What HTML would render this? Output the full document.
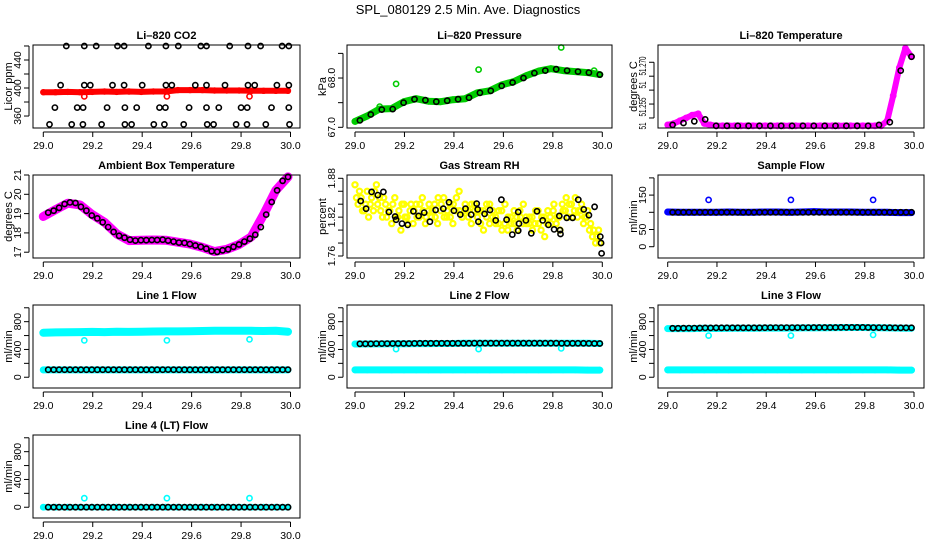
<!DOCTYPE html>
<html><head><meta charset="utf-8"><style>
html,body{margin:0;padding:0;background:#fff;}
svg{display:block;font-family:"Liberation Sans",sans-serif;}
</style></head><body>
<svg id="chart" width="936" height="540" viewBox="0 0 936 540">
<text x="468" y="14" text-anchor="middle" font-size="13">SPL_080129  2.5 Min. Ave. Diagnostics</text>
</svg>
<script>
// ---------- data ----------
const xTicks = [29.0, 29.2, 29.4, 29.6, 29.8, 30.0];
const xTickLabels = ["29.0", "29.2", "29.4", "29.6", "29.8", "30.0"];

const co2Red = [394,394,394.5,394,394.5,395,394.5,395,394.5,395,395,397,397,397,396.5,396.5,396.5,396,396,396,396];
const co2RedOutX = [29.166, 29.5, 29.834];
const co2RedOutY = [388, 388, 388];
const co2BlackX = [29.093,29.166,29.214,29.30,29.327,29.425,29.496,29.546,29.637,29.66,29.754,29.828,29.879,29.966,29.993,
 29.07,29.166,29.19,29.28,29.327,29.40,29.496,29.52,29.615,29.66,29.735,29.828,29.855,29.945,29.993,
 29.047,29.137,29.161,29.258,29.33,29.378,29.47,29.494,29.59,29.66,29.71,29.80,29.825,29.923,29.993,
 29.025,29.115,29.16,29.236,29.33,29.357,29.447,29.49,29.568,29.663,29.689,29.78,29.824,29.90,29.996];
const co2BlackY = [460,460,460,460,460,460,460,460,460,460,460,460,460,460,460,
 404,404,404,404,404,404,404,404,404,404,404,404,404,404,404,
 372,372,372,372,372,372,372,372,372,372,372,372,372,372,372,
 348,348,348,348,348,348,348,348,348,348,348,348,348,348,348];

const presGreen = [67.12,67.23,67.37,67.38,67.52,67.58,67.53,67.52,67.56,67.58,67.7,67.74,67.86,67.93,68.05,68.14,68.19,68.15,68.13,68.11,68.07];
const presGreenOutX = [29.1, 29.166, 29.5, 29.834, 29.967];
const presGreenOutY = [67.42, 67.88, 68.17, 68.62, 68.15];
const presBlack = [67.14,67.26,67.36,67.37,67.5,67.57,67.55,67.52,67.54,67.57,67.6,67.7,67.74,67.84,67.91,68.0,68.1,68.15,68.18,68.15,68.13,68.11,68.07];

const tempMag = [51.2475,51.248,51.249,51.250,51.251,51.2515,51.248,51.2475,
 51.2472,51.2472,51.2472,51.2472,51.2472,51.2472,51.2472,51.2472,51.2472,51.2472,51.2472,51.2472,51.2472,51.2472,
 51.2472,51.2472,51.2472,51.2472,51.2472,51.2472,51.2472,51.2472,51.2472,51.2472,51.2472,51.2472,51.2472,51.2472,
 51.249,51.258,51.268,51.275,51.272];
const tempBlack = [51.2475,51.2482,51.2488,51.2495,51.2472,51.2472,51.2472,51.2472,51.2472,51.2472,51.2472,51.2472,
 51.2472,51.2472,51.2472,51.2472,51.2472,51.2472,51.2472,51.2475,51.2485,51.267,51.272];

const ambMag = [18.85,19.2,19.54,19.45,18.95,18.55,17.95,17.6,17.62,17.63,17.62,17.52,17.42,17.25,17.03,17.15,17.4,17.8,18.95,20.2,20.9];
const ambBlack = [19.05,19.15,19.3,19.5,19.58,19.55,19.35,19.15,18.9,18.75,18.55,18.3,18.05,17.85,17.75,17.65,17.6,17.62,17.62,17.63,17.63,17.65,
 17.6,17.55,17.5,17.48,17.42,17.35,17.28,17.18,17.05,17.02,17.1,17.15,17.28,17.4,17.55,17.7,17.9,18.3,18.95,19.6,20.2,20.7,20.9];

const rhYellow = [1.87,1.84,1.85,1.83,1.86,1.84,1.83,1.87,1.85,1.82,1.84,1.83,1.81,1.85,1.82,1.80,1.84,1.82,1.83,1.81,
 1.84,1.82,1.85,1.81,1.83,1.82,1.84,1.81,1.83,1.85,1.82,1.84,1.81,1.83,1.86,1.82,1.84,1.83,1.81,1.84,
 1.82,1.83,1.80,1.82,1.84,1.82,1.81,1.83,1.80,1.84,1.82,1.81,1.83,1.80,1.82,1.84,1.81,1.82,1.80,1.83,
 1.81,1.82,1.79,1.83,1.81,1.84,1.82,1.80,1.83,1.85,1.84,1.82,1.85,1.83,1.84,1.82,1.83,1.81,1.80,1.79,1.78];
const rhYellow2 = [1.85,1.86,1.83,1.84,1.82,1.85,1.86,1.84,1.83,1.85,1.82,1.83,1.84,1.82,1.83,1.84,1.82,1.81,1.84,1.83,
 1.82,1.84,1.83,1.82,1.84,1.83,1.82,1.85,1.84,1.82,1.83,1.82,1.84,1.85,1.83,1.82,1.83,1.82,1.84,1.83,
 1.83,1.81,1.83,1.84,1.81,1.83,1.82,1.81,1.83,1.81,1.80,1.82,1.81,1.82,1.83,1.81,1.82,1.81,1.82,1.81,
 1.83,1.80,1.82,1.81,1.82,1.83,1.81,1.82,1.84,1.83,1.82,1.84,1.83,1.82,1.83,1.81,1.82,1.80,1.79,1.78,1.80];
const rhBlackX = [29.023,29.045,29.067,29.092,29.115,29.137,29.162,29.166,29.19,29.213,29.236,29.257,29.28,29.303,29.326,29.357,29.38,29.40,29.426,29.447,
 29.47,29.492,29.496,29.499,29.524,29.546,29.569,29.592,29.613,29.636,29.66,29.663,29.66,29.691,29.713,29.736,29.759,29.782,29.805,29.826,
 29.829,29.831,29.856,29.88,29.903,29.925,29.946,29.969,29.992,29.995,29.997];
const rhBlackY = [1.845,1.833,1.859,1.854,1.859,1.828,1.821,1.816,1.810,1.808,1.829,1.822,1.827,1.813,1.831,1.833,1.843,1.830,1.824,1.833,
 1.824,1.841,1.832,1.813,1.825,1.831,1.815,1.847,1.816,1.793,1.828,1.810,1.799,1.815,1.795,1.829,1.815,1.808,1.801,1.822,
 1.800,1.794,1.819,1.819,1.847,1.832,1.823,1.836,1.790,1.780,1.764];

const sampleBlue = [101,100,100,100,100,101,100,100,101,101,100,101,102,101,101,101,100,100,100,99,99];
const sampleBlueOutX = [29.166, 29.5, 29.834];
const sampleBlueOutY = [136, 136, 136];
const sampleBlack = [100,100,100,100,100,100,100,100,100,100,100,100,100,100,100,100,100,100,100,100,100,100,100,
 100,100,100,100,100,100,100,100,100,100,100,100,100,100,100,100,100,100,100,100,100,100];

const line1CyanHi = [640,645,648,650,652,650,655,652,655,658,660,660,662,665,668,670,670,668,665,668,655];
const line1CyanLo = [105,105,105,105,105,105,105,105,105,105,105,105,105,105,105,105,105,105,105,105,105];
const line1CyanOutX = [29.166, 29.5, 29.834];
const line1CyanOutY = [530, 530, 545];
const line1Black = [108,108,108,108,108,108,108,108,108,108,108,108,108,108,108,108,108,108,108,108,108,108,110,
 108,108,108,108,108,108,108,108,108,108,108,108,108,108,108,108,108,108,108,108,108,108];

const line2CyanHi = [478,480,480,482,482,484,484,486,486,488,488,488,488,488,488,488,490,488,488,488,486];
const line2CyanLo = [105,105,105,105,105,105,105,105,105,105,105,105,105,105,105,105,105,105,105,102,102];
const line2CyanOutX = [29.166, 29.5, 29.834];
const line2CyanOutY = [405, 405, 415];
const line2Black = [482,482,482,484,484,484,485,486,486,486,487,488,488,488,488,488,488,488,488,488,489,490,490,
 490,490,490,490,490,490,490,490,490,490,490,490,490,490,489,488,488,488,488,487,486,486];

const line3CyanHi = [700,700,700,704,702,705,706,706,708,708,708,710,710,712,714,716,716,712,710,708,706];
const line3CyanLo = [105,105,105,105,105,105,105,105,105,105,105,105,105,105,105,105,105,105,105,103,103];
const line3CyanOutX = [29.166, 29.5, 29.834];
const line3CyanOutY = [600, 600, 610];
const line3Black = [705,705,706,707,708,709,710,711,712,712,712,712,712,712,712,712,712,713,714,714,714,714,714,
 714,714,715,716,716,716,716,716,717,718,718,718,717,716,715,714,714,713,712,712,712,712];

const line4Cyan = [0,0,0,0,0,0,0,0,0,0,0,0,0,0,0,0,0,0,0,0,0];
const line4CyanOutX = [29.166, 29.5, 29.834];
const line4CyanOutY = [130, 130, 130];
const line4Black = [0,0,0,0,0,0,0,0,0,0,0,0,0,0,0,0,0,0,0,0,0,0,0,
 0,0,0,0,0,0,0,0,0,0,0,0,0,0,0,0,0,0,0,0,0,0];

// ---------- layout ----------
const NS = "http://www.w3.org/2000/svg";
const svg = document.getElementById("chart");
const cols = [{L:33,R:300,x0:43.3,x1:290.5},{L:347,R:612,x0:355,x1:602.3},{L:658,R:924,x0:667.7,x1:914}];
const rowTops = [45,175,305,435];
const H = 83;
function mk(tag, attrs, parent){
  const e = document.createElementNS(NS, tag);
  for (const k in attrs) e.setAttribute(k, attrs[k]);
  (parent||svg).appendChild(e);
  return e;
}
function uniformTimes(n, t0, t1){ const a=[]; for(let i=0;i<n;i++) a.push(t0+(t1-t0)*i/(n-1)); return a; }

function panel(cfg){
  const c = cols[cfg.col], top = rowTops[cfg.row], bot = top + H;
  const g = mk("g", {});
  
  
  const xs = t => c.x0 + (t - 29) * (c.x1 - c.x0);
  const ys = v => bot - (v - cfg.ymin) / (cfg.ymax - cfg.ymin) * H;
  const tt = mk("text", {x:(c.L+c.R)/2, y:top-6, "text-anchor":"middle", "font-size":"11", "font-weight":"bold"}, g);
  tt.textContent = cfg.title;
  
  
  const sg = mk("g", {}, g);
  cfg.series.forEach(s => {
    const ts = s.x ? s.x : uniformTimes(s.y.length, s.t0, s.t1);
    if (s.band) {
      let d = "";
      ts.forEach((t,i) => { d += (i ? "L" : "M") + xs(t).toFixed(1) + " " + ys(s.y[i]).toFixed(1); });
      const p = mk("path", {d:d, fill:"none", stroke:s.color, "stroke-width":s.band, "stroke-linejoin":"round", "stroke-linecap":"round"}, sg);
      
      
    }
    if (s.pts !== false) {
      ts.forEach((t,i) => {
        const ci = mk("circle", {cx:xs(t).toFixed(1), cy:ys(s.y[i]).toFixed(1), r:s.r||2.6, fill:"none", stroke:s.color, "stroke-width":s.sw||1.6}, sg);
        
        
      });
    }
  });
  const box = mk("rect", {x:c.L, y:top, width:c.R-c.L, height:H, fill:"none", stroke:"#000", "stroke-width":1}, g);
  
  
  const xa = mk("g", {}, g);
  
  
  mk("line", {x1:xs(29), x2:xs(30), y1:bot+4, y2:bot+4, stroke:"#000"}, xa);
  xTicks.forEach((t,i) => {
    mk("line", {x1:xs(t), x2:xs(t), y1:bot+4, y2:bot+9, stroke:"#000"}, xa);
    const lb = mk("text", {x:xs(t), y:bot+21, "text-anchor":"middle", "font-size":"10.5"}, xa);
    lb.textContent = xTickLabels[i];
    
    
  });
  const ya = mk("g", {}, g);
  
  
  const ax = c.L - 4;
  mk("line", {x1:ax, x2:ax, y1:ys(cfg.yticks[0]), y2:ys(cfg.yticks[cfg.yticks.length-1]), stroke:"#000"}, ya);
  cfg.yticks.forEach(v => mk("line", {x1:ax-5, x2:ax, y1:ys(v), y2:ys(v), stroke:"#000"}, ya));
  cfg.ylabels.forEach(l => {
    const y = l.py !== undefined ? l.py : ys(l.v);
    const attrs = {x:0, y:0, transform:`translate(${ax-8},${y}) rotate(-90)`, "text-anchor":"middle", "font-size":"10.5"};
    if (l.len) { attrs.textLength = l.len; attrs.lengthAdjust = "spacingAndGlyphs"; }
    const lb = mk("text", attrs, ya);
    lb.textContent = l.t;
    
    
  });
  const yt = mk("text", {x:0, y:0, transform:`translate(${c.L-21},${(top+bot)/2}) rotate(-90)`, "text-anchor":"middle", "font-size":"11"}, g);
  yt.textContent = cfg.ylab;
  
  
}

const BT0 = 29.02, BT1 = 29.99;
panel({name:"co2", title:"Li\u2013820 CO2", col:0, row:0, ymin:342.9, ymax:461.4, ylab:"Licor ppm",
  yticks:[360,380,400,420,440,460], ylabels:[{v:360,t:"360"},{v:400,t:"400"},{v:440,t:"440"}],
  series:[
    {name:"co2-licor", y:co2Red, t0:29.0, t1:29.99, color:"#ff0000", band:6, r:2.4},
    {name:"co2-outlier", x:co2RedOutX, y:co2RedOutY, color:"#ff0000"},
    {name:"co2-black", x:co2BlackX, y:co2BlackY, color:"#000"}
  ]});
panel({name:"pressure", title:"Li\u2013820 Pressure", col:1, row:0, ymin:66.986, ymax:68.67, ylab:"kPa",
  yticks:[67.0,67.5,68.0,68.5], ylabels:[{v:67.0,t:"67.0"},{v:68.0,t:"68.0"}],
  series:[
    {name:"pressure-green", y:presGreen, t0:29.0, t1:29.99, color:"#00cc00", band:7},
    {name:"pressure-outlier", x:presGreenOutX, y:presGreenOutY, color:"#00cc00"},
    {name:"pressure-black", y:presBlack, t0:BT0, t1:BT1, color:"#000"}
  ]});
panel({name:"temperature", title:"Li\u2013820 Temperature", col:2, row:0, ymin:51.2464, ymax:51.2762, ylab:"degrees C",
  yticks:[51.250,51.255,51.260,51.265,51.270],
  ylabels:[{py:66,t:"51.270",len:19},{py:85,t:"51",len:7},{py:107,t:"51.255",len:19},{py:126,t:"51",len:7}],
  series:[
    {name:"temperature-magenta", y:tempMag, t0:29.0, t1:29.99, color:"#ff00ff", band:6},
    {name:"temperature-black", y:tempBlack, t0:BT0, t1:BT1, color:"#000"}
  ]});
panel({name:"ambient", title:"Ambient Box Temperature", col:0, row:1, ymin:16.70, ymax:21.0, ylab:"degrees C",
  yticks:[17,18,19,20,21], ylabels:[{v:17,t:"17"},{v:18,t:"18"},{v:19,t:"19"},{v:20,t:"20"},{v:21,t:"21"}],
  series:[
    {name:"ambient-magenta", y:ambMag, t0:29.0, t1:29.99, color:"#ff00ff", band:9},
    {name:"ambient-black", y:ambBlack, t0:BT0, t1:BT1, color:"#000"}
  ]});
panel({name:"rh", title:"Gas Stream RH", col:1, row:1, ymin:1.7569, ymax:1.8851, ylab:"percent",
  yticks:[1.76,1.78,1.80,1.82,1.84,1.86,1.88], ylabels:[{v:1.76,t:"1.76"},{v:1.82,t:"1.82"},{v:1.88,t:"1.88"}],
  series:[
    {name:"rh-yellow", y:rhYellow, t0:29.0, t1:29.99, color:"#ffff00", sw:2.2},
    {name:"rh-yellow-2", y:rhYellow2, t0:29.006, t1:29.985, color:"#ffff00", sw:2.2},
    {name:"rh-black", x:rhBlackX, y:rhBlackY, color:"#000"}
  ]});
panel({name:"sample-flow", title:"Sample Flow", col:2, row:1, ymin:-32.8, ymax:208.4, ylab:"ml/min",
  yticks:[0,50,100,150,200], ylabels:[{v:0,t:"0"},{v:50,t:"50"},{v:150,t:"150"}],
  series:[
    {name:"sample-blue", y:sampleBlue, t0:29.0, t1:29.99, color:"#0000ff", band:7},
    {name:"sample-outlier", x:sampleBlueOutX, y:sampleBlueOutY, color:"#0000ff"},
    {name:"sample-black", y:sampleBlack, t0:BT0, t1:BT1, color:"#000"}
  ]});
const flowTicks = [0,200,400,600,800,1000];
const flowLabels = [{v:0,t:"0"},{v:400,t:"400"},{v:800,t:"800"}];
panel({name:"line1-flow", title:"Line 1 Flow", col:0, row:2, ymin:-155, ymax:1040, ylab:"ml/min", yticks:flowTicks, ylabels:flowLabels,
  series:[
    {name:"line1-cyan-high", y:line1CyanHi, t0:29.0, t1:29.99, color:"#00ffff", band:8},
    {name:"line1-cyan-low", y:line1CyanLo, t0:29.0, t1:29.99, color:"#00ffff", band:7},
    {name:"line1-outlier", x:line1CyanOutX, y:line1CyanOutY, color:"#00ffff"},
    {name:"line1-black", y:line1Black, t0:BT0, t1:BT1, color:"#000"}
  ]});
panel({name:"line2-flow", title:"Line 2 Flow", col:1, row:2, ymin:-155, ymax:1040, ylab:"ml/min", yticks:flowTicks, ylabels:flowLabels,
  series:[
    {name:"line2-cyan-high", y:line2CyanHi, t0:29.0, t1:29.99, color:"#00ffff", band:7},
    {name:"line2-cyan-low", y:line2CyanLo, t0:29.0, t1:29.99, color:"#00ffff", band:7},
    {name:"line2-outlier", x:line2CyanOutX, y:line2CyanOutY, color:"#00ffff"},
    {name:"line2-black", y:line2Black, t0:BT0, t1:BT1, color:"#000"}
  ]});
panel({name:"line3-flow", title:"Line 3 Flow", col:2, row:2, ymin:-155, ymax:1040, ylab:"ml/min", yticks:flowTicks, ylabels:flowLabels,
  series:[
    {name:"line3-cyan-high", y:line3CyanHi, t0:29.0, t1:29.99, color:"#00ffff", band:7},
    {name:"line3-cyan-low", y:line3CyanLo, t0:29.0, t1:29.99, color:"#00ffff", band:7},
    {name:"line3-outlier", x:line3CyanOutX, y:line3CyanOutY, color:"#00ffff"},
    {name:"line3-black", y:line3Black, t0:BT0, t1:BT1, color:"#000"}
  ]});
panel({name:"line4-flow", title:"Line 4 (LT) Flow", col:0, row:3, ymin:-155, ymax:1040, ylab:"ml/min", yticks:flowTicks, ylabels:flowLabels,
  series:[
    {name:"line4-cyan", y:line4Cyan, t0:29.0, t1:29.99, color:"#00ffff", band:6},
    {name:"line4-outlier", x:line4CyanOutX, y:line4CyanOutY, color:"#00ffff"},
    {name:"line4-black", y:line4Black, t0:BT0, t1:BT1, color:"#000"}
  ]});
</script>
</body></html>
